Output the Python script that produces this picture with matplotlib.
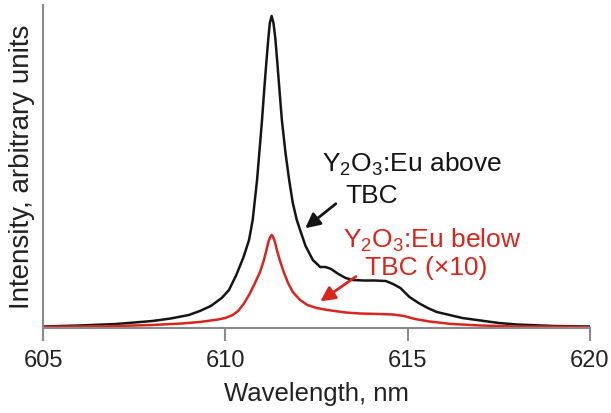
import numpy as np
import matplotlib.pyplot as plt

plt.rcParams['font.family'] = ['Liberation Sans', 'DejaVu Sans']
plt.rcParams['mathtext.fontset'] = 'custom'
plt.rcParams['mathtext.rm'] = 'Liberation Sans'
plt.rcParams['mathtext.it'] = 'Liberation Sans:italic'

# emission spectra (arbitrary units)
wl_above = [605.0, 606.0, 607.0, 608.0, 608.5, 609.0, 609.3, 609.6, 609.9, 610.1,
            610.3, 610.5, 610.65, 610.75, 610.87, 611.0, 611.07, 611.13, 611.18, 611.22,
            611.27, 611.32, 611.37, 611.42, 611.48, 611.55, 611.65, 611.75, 611.85, 611.96,
            612.05, 612.2, 612.4, 612.6, 612.75, 612.9, 613.1, 613.3, 613.5, 613.8,
            614.1, 614.4, 614.6, 614.8, 615.05, 615.3, 615.55, 615.8, 616.15, 616.5,
            616.9, 617.5, 618.0, 619.0, 620.0]
int_above = [1.5, 2.5, 4, 7, 9.5, 13, 17, 22, 30, 38,
             53, 71, 88, 108, 148, 205, 240, 268, 290, 305,
             312, 305, 290, 268, 240, 208, 175, 148, 125, 108,
             98, 82, 68, 61, 61, 59, 54, 50, 48, 47.5,
             47.5, 47, 44, 40, 31, 25, 20, 16, 13, 10,
             8, 5, 3.5, 2, 1.5]

wl_below = [605.0, 606.0, 607.0, 608.0, 608.8, 609.3, 609.8, 610.0, 610.2, 610.35,
            610.5, 610.65, 610.8, 610.95, 611.05, 611.12, 611.18, 611.23, 611.27, 611.31,
            611.36, 611.42, 611.5, 611.6, 611.72, 611.85, 612.05, 612.25, 612.5, 612.8,
            613.0, 613.3, 613.7, 614.2, 614.6, 614.9, 615.2, 615.6, 616.2, 617.0,
            618.0, 620.0]
int_below = [1, 1.5, 2, 3, 4.5, 6, 8.5, 10, 13, 17,
             24, 33, 44, 56, 67, 77, 86, 91, 93, 91,
             86, 77, 67, 56, 45, 36, 28, 23, 20, 18,
             17, 15.5, 14.5, 14, 13.5, 12, 9, 6.5, 4, 2.5,
             1.5, 1]

xticks = [605, 610, 615, 620]
red = '#d8261f'
grey = '#8a8a8a'
black = '#151515'

fig = plt.figure(figsize=(6.11, 4.13), dpi=100)
ax = fig.add_axes([0.0704, 0.2058, 0.8952, 0.7821])

ax.plot(wl_above, int_above, color=black, lw=1.8)
ax.plot(wl_below, int_below, color=red, lw=1.8)

ax.set_xlim(605, 620)
ax.set_ylim(0, 323)
ax.set_xticks(xticks)
ax.set_yticks([])
for s in ['top', 'right']:
    ax.spines[s].set_visible(False)
for s in ['left', 'bottom']:
    ax.spines[s].set_color(grey)
    ax.spines[s].set_linewidth(1.5)
ax.tick_params(axis='x', direction='out', length=9, width=1.5, color=grey,
               labelsize=17, pad=7, labelcolor='#222222')
ax.set_xlabel('Wavelength, nm', fontsize=18.5, labelpad=7, color='#222222')
ax.set_ylabel('Intensity, arbitrary units', fontsize=20, labelpad=6, color='#222222')

ax.text(612.65, 156, 'Y$_2$O$_3$:Eu above', fontsize=19, va='baseline', color=black)
ax.text(613.28, 125, 'TBC', fontsize=19, va='baseline', color=black)
ax.text(613.23, 80, 'Y$_2$O$_3$:Eu below', fontsize=19, va='baseline', color=red)
ax.text(613.83, 53, 'TBC (\u00d710)', fontsize=19, va='baseline', color=red)

ax.annotate('', xy=(612.13, 98), xytext=(613.09, 126),
            arrowprops=dict(arrowstyle='-|>', color=black, lw=2, mutation_scale=22))
ax.annotate('', xy=(612.54, 25), xytext=(613.64, 53),
            arrowprops=dict(arrowstyle='-|>', color=red, lw=2, mutation_scale=22))

plt.savefig('out.png', dpi=100)
